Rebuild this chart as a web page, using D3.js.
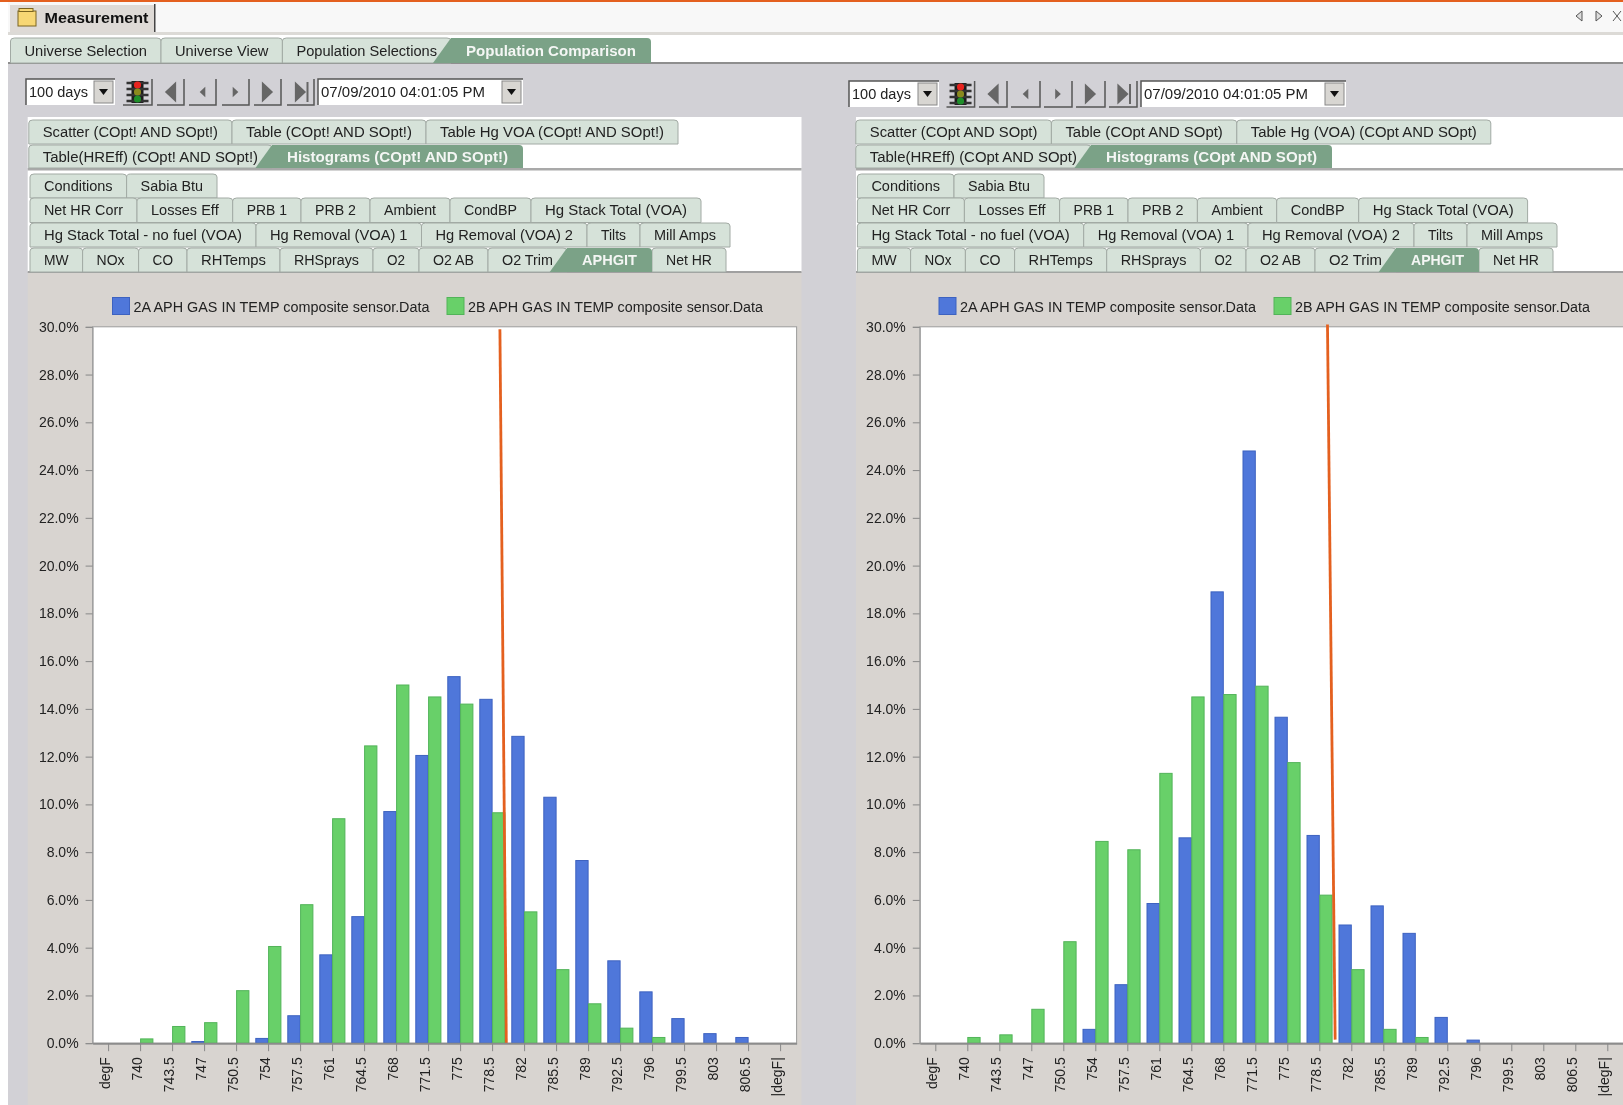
<!DOCTYPE html>
<html>
<head>
<meta charset="utf-8">
<title>Measurement</title>
<script src="https://cdn.jsdelivr.net/npm/d3@7"></script>
<style>
  html, body { margin: 0; padding: 0; background: #fff; overflow: hidden; }
  svg { display: block; filter: blur(0.55px); }
  text { font-family: "Liberation Sans", Arial, sans-serif; fill: #222; }
</style>
</head>
<body>
<div id="chart"></div>
<script>
// histogram bins, same for both panels
var categories = ["degF", "740", "743.5", "747", "750.5", "754", "757.5", "761", "764.5", "768", "771.5",
  "775", "778.5", "782", "785.5", "789", "792.5", "796", "799.5", "803", "806.5", "|degF|"];
var seriesNames = ["2A APH GAS IN TEMP composite sensor.Data", "2B APH GAS IN TEMP composite sensor.Data"];
var yTicks = [0, 2, 4, 6, 8, 10, 12, 14, 16, 18, 20, 22, 24, 26, 28, 30];

var leftBlue = [0, 0, 0, 0.07, 0, 0.2, 1.15, 3.7, 5.3, 9.7, 12.05, 15.35, 14.4, 12.85, 10.3, 7.65, 3.45, 2.15, 1.03, 0.4, 0.24, 0];
var leftGreen = [0, 0.18, 0.7, 0.86, 2.2, 4.05, 5.8, 9.4, 12.45, 15, 14.5, 14.2, 9.65, 5.5, 3.08, 1.65, 0.63, 0.24, 0, 0, 0, 0];
var rightBlue = [0, 0, 0, 0, 0, 0.58, 2.45, 5.85, 8.6, 18.9, 24.8, 13.65, 8.7, 4.95, 5.75, 4.6, 1.08, 0.13, 0, 0, 0, 0];
var rightGreen = [0, 0.24, 0.35, 1.42, 4.25, 8.45, 8.1, 11.3, 14.5, 14.6, 14.95, 11.75, 6.2, 3.08, 0.58, 0.24, 0, 0, 0, 0, 0, 0];

// orange marker: [degF, percent] ends
var leftMarker = [[779.3, 29.9], [780.0, 0]];
var rightMarker = [[779.34, 30.1], [780.18, 0.15]];

var topTabs = ["Universe Selection", "Universe View", "Population Selections", "Population Comparison"];
var dateLabel = "07/09/2010 04:01:05 PM";
var rangeLabel = "100 days";

var leftRow1 = ["Scatter (COpt! AND SOpt!)", "Table (COpt! AND SOpt!)", "Table Hg VOA (COpt! AND SOpt!)"];
var leftRow2 = ["Table(HREff) (COpt! AND SOpt!)", "Histograms (COpt! AND SOpt!)"];
var rightRow1 = ["Scatter (COpt AND SOpt)", "Table (COpt AND SOpt)", "Table Hg (VOA) (COpt AND SOpt)"];
var rightRow2 = ["Table(HREff) (COpt AND SOpt)", "Histograms (COpt AND SOpt)"];
var row3 = ["Conditions", "Sabia Btu"];
var row4 = ["Net HR Corr", "Losses Eff", "PRB 1", "PRB 2", "Ambient", "CondBP", "Hg Stack Total (VOA)"];
var row5 = ["Hg Stack Total - no fuel (VOA)", "Hg Removal (VOA) 1", "Hg Removal (VOA) 2", "Tilts", "Mill Amps"];
var row6 = ["MW", "NOx", "CO", "RHTemps", "RHSprays", "O2", "O2 AB", "O2 Trim", "APHGIT", "Net HR"];

var W = 1623, H = 1105;
var colors = { panel: "#d2d1d6", chartBg: "#d8d4d0", tab: "#d6e2d9", active: "#7ba287", line: "#9a9a9a", blue: "#4f77da", blueEdge: "#3d62c0", green: "#68d069", greenEdge: "#52b359", orange: "#e4601f" };

var svg = d3.select("#chart").append("svg").attr("width", W).attr("height", H);

function rect(g, x, y, w, h, fill, stroke) {
  return g.append("rect").attr("x", x).attr("y", y).attr("width", w).attr("height", h)
    .attr("fill", fill).attr("stroke", stroke || "none");
}

// window chrome
rect(svg, 0, 0, W, H, "#fff");
rect(svg, 0, 0, W, 2, colors.orange);
rect(svg, 8, 2, W - 8, 30, "#f8f8f8");
rect(svg, 8, 32, W - 8, 3, "#dcdad6");
rect(svg, 10, 5, 144, 27, "#dedad6");
rect(svg, 154, 4, 1.5, 28, "#444");
rect(svg, 18, 11, 18, 15, "#f7d774", "#7a6420");
rect(svg, 19, 8.5, 14, 3, "#f7d774", "#7a6420");
svg.append("text").attr("x", 44.5).attr("y", 23).attr("font-size", 14.5).attr("font-weight", "bold")
  .attr("textLength", 104).attr("lengthAdjust", "spacingAndGlyphs").style("fill", "#111").text("Measurement");
[[1579, -1], [1599, 1]].forEach(function(a) {
  svg.append("path").attr("d", "M" + (a[0] + a[1] * 3) + " 16L" + (a[0] - a[1] * 3) + " 11V21Z")
    .attr("fill", "#ddd").attr("stroke", "#555");
});
svg.append("path").attr("d", "M1613 11L1621 21M1621 11L1613 21").attr("stroke", "#555").attr("fill", "none");

rect(svg, 8, 63, W - 8, H - 63, colors.panel);
rect(svg, 8, 62, W - 8, 2, "#8e8e8e");

// one row of tabs. edges are the tab boundaries, activeIdx tab gets a slanted left side
function tabRow(g, names, edges, top, bottom, activeIdx) {
  names.forEach(function(name, i) {
    if (i === activeIdx) return;
    var x0 = edges[i], x1 = edges[i + 1];
    g.append("path")
      .attr("d", "M" + x0 + " " + bottom + "V" + (top + 3) + "Q" + x0 + " " + top + " " + (x0 + 4) + " " + top +
        "H" + (x1 - 4) + "Q" + x1 + " " + top + " " + x1 + " " + (top + 3) + "V" + bottom + "Z")
      .attr("fill", colors.tab).attr("stroke", "#a2aaa4");
    g.append("text").attr("x", (x0 + x1) / 2).attr("y", (top + bottom) / 2 + 5).attr("text-anchor", "middle")
      .attr("font-size", 14).attr("textLength", x1 - x0 - 28).attr("lengthAdjust", "spacingAndGlyphs").text(name);
  });
  if (activeIdx != null) {
    var a0 = edges[activeIdx], a1 = edges[activeIdx + 1], slant = (bottom - top) * 0.72;
    g.append("path")
      .attr("d", "M" + (a0 - slant) + " " + bottom + "L" + a0 + " " + top + "H" + (a1 - 4) + "Q" + a1 + " " + top + " " + a1 + " " + (top + 4) + "V" + bottom + "Z")
      .attr("fill", colors.active);
    g.append("text").attr("x", (a0 + a1) / 2).attr("y", (top + bottom) / 2 + 5).attr("text-anchor", "middle")
      .attr("font-size", 14).attr("font-weight", "bold").attr("textLength", a1 - a0 - 30).attr("lengthAdjust", "spacingAndGlyphs")
      .style("fill", "#f4f6f4").text(names[activeIdx]);
  }
}

function dropdown(g, x0, x1, y0, y1, label, labelWidth) {
  rect(g, x0, y0, x1 - x0, y1 - y0, "#fff");
  g.append("path").attr("d", "M" + x0 + " " + y1 + "V" + y0 + "H" + x1).attr("stroke", "#555").attr("stroke-width", 1.5).attr("fill", "none");
  rect(g, x1 - 21, y0 + 2, 19, y1 - y0 - 4, "#d8d6d2", "#888");
  g.append("path").attr("d", "M" + (x1 - 16) + " " + (y0 + 10) + "h9l-4.5 6z").attr("fill", "#111");
  g.append("text").attr("x", x0 + 3).attr("y", (y0 + y1) / 2 + 5).attr("font-size", 14)
    .attr("textLength", labelWidth).attr("lengthAdjust", "spacingAndGlyphs").text(label);
}

// traffic light + navigation buttons
function controls(g, o) {
  dropdown(g, o.sel[0], o.sel[1], o.y0, o.y1, rangeLabel, 59);
  dropdown(g, o.date[0], o.date[1], o.y0, o.y1, dateLabel, 164);
  var cx = (o.light[0] + o.light[1]) / 2, cy = (o.y0 + o.y1) / 2;
  g.append("path").attr("d", "M" + o.light[0] + " " + o.y1 + "H" + o.light[1] + "V" + o.y0).attr("stroke", "#555").attr("stroke-width", 1.5).attr("fill", "none");
  rect(g, cx - 6, o.y0 + 2, 12, o.y1 - o.y0 - 4, "#1c1c1c");
  g.append("path").attr("d", "M" + (cx - 11) + " " + (cy - 9) + "h22M" + (cx - 11) + " " + (cy - 3) + "h22M" + (cx - 11) + " " + (cy + 3) + "h22M" + (cx - 11) + " " + (cy + 9) + "h22")
    .attr("stroke", "#333").attr("stroke-width", 2.5);
  ["#e8231f", "#8a8a1e", "#1f8f2a"].forEach(function(c, i) {
    g.append("circle").attr("cx", cx).attr("cy", cy + (i - 1) * 7).attr("r", 3.6).attr("fill", c);
  });
  var dirs = [[-1, 8, false], [-1, 4, false], [1, 4, false], [1, 8, false], [1, 8, true]];
  o.nav.forEach(function(n, i) {
    var c = (n[0] + n[1]) / 2, d = dirs[i];
    g.append("path").attr("d", "M" + n[0] + " " + o.y1 + "H" + n[1] + "V" + o.y0).attr("stroke", "#555").attr("stroke-width", 1.5).attr("fill", "none");
    g.append("path").attr("d", "M" + (c + d[0] * d[1] * 0.7) + " " + cy + "L" + (c - d[0] * d[1] * 0.7) + " " + (cy - d[1] * 1.3) + "V" + (cy + d[1] * 1.3) + "Z").attr("fill", "#666");
    if (d[2]) rect(g, c + 6, cy - 10, 2, 20, "#666");
  });
}

function histogram(o) {
  var g = svg.append("g");
  // tabs panel and chart background
  rect(g, o.panel[0], 117, o.panel[1] - o.panel[0], 155, "#fff");
  rect(g, o.panel[0], 168, o.panel[1] - o.panel[0], 2.5, "#a9a9a9");
  rect(g, o.panel[0], 272, o.panel[1] - o.panel[0], H - 272, colors.chartBg);
  rect(g, o.panel[0], 271, o.panel[1] - o.panel[0], 2, "#a0a0a0");

  controls(g, o);
  tabRow(g, o.row1, o.edges1, 120, 144, null);
  tabRow(g, o.row2, o.edges2, 145, 168, 1);
  tabRow(g, row3, o.edges3, 174, 198, null);
  tabRow(g, row4, o.edges4, 198, 222.5, null);
  tabRow(g, row5, o.edges5, 223, 247, null);
  tabRow(g, row6, o.edges6, 248, 272, 8);

  // legend
  seriesNames.forEach(function(name, i) {
    rect(g, o.legend[i], 297.5, 17, 17, i ? colors.green : colors.blue, i ? colors.greenEdge : colors.blueEdge);
    g.append("text").attr("x", o.legend[i] + 21).attr("y", 312).attr("font-size", 14)
      .attr("textLength", i ? 295 : 296).attr("lengthAdjust", "spacingAndGlyphs").text(name);
  });

  var x = d3.scaleBand().domain(categories).range([o.plotX, o.plotX + 704]).paddingInner(0.2).paddingOuter(0.1);
  var inner = d3.scaleBand().domain([0, 1]).range([0, x.bandwidth()]);
  var y = d3.scaleLinear().domain([0, 30]).range([1043.2, 326.8]);
  var binPos = d3.scaleLinear().domain([740, 806.5]).range([x("740") + x.bandwidth() / 2, x("806.5") + x.bandwidth() / 2]);

  rect(g, o.plotX, y(30), 704, y(0) - y(30), "#fff", "#9c9c9c");

  [o.blue, o.green].forEach(function(vals, s) {
    g.append("g").selectAll("rect")
      .data(vals.map(function(v, i) { return { v: v, c: categories[i] }; }).filter(function(d) { return d.v > 0; }))
      .enter().append("rect")
      .attr("x", function(d) { return x(d.c) + inner(s); })
      .attr("y", function(d) { return y(d.v); })
      .attr("width", inner.bandwidth() - 0.5)
      .attr("height", function(d) { return y(0) - y(d.v); })
      .attr("fill", s ? colors.green : colors.blue)
      .attr("stroke", s ? colors.greenEdge : colors.blueEdge);
  });

  g.append("path")
    .attr("d", d3.line().x(function(d) { return binPos(d[0]); }).y(function(d) { return y(d[1]); })(o.marker))
    .attr("stroke", colors.orange).attr("stroke-width", 2.8).attr("fill", "none");

  var yAxis = g.append("g").attr("transform", "translate(" + o.plotX + ",0)")
    .call(d3.axisLeft(y).tickValues(yTicks).tickSize(7).tickPadding(7).tickFormat(function(d) { return d.toFixed(1) + "%"; }));
  yAxis.select(".domain").attr("stroke", "#9c9c9c");
  yAxis.selectAll("line").attr("stroke", "#888");
  yAxis.selectAll("text").attr("font-size", 14).attr("font-family", null).style("fill", "#222");

  var xAxis = g.append("g").attr("transform", "translate(0," + y(0) + ")")
    .call(d3.axisBottom(x).tickSize(8).tickSizeOuter(0));
  xAxis.select(".domain").attr("stroke", "#8c8c8c").attr("stroke-width", 2);
  xAxis.selectAll("line").attr("stroke", "#888");
  xAxis.selectAll("text").attr("font-size", 14).attr("font-family", null).style("fill", "#222")
    .attr("text-anchor", "end").attr("transform", "rotate(-90)").attr("x", -14).attr("y", -3.5).attr("dy", "0.32em");
}

// top level tabs
tabRow(svg, topTabs, [10.5, 161, 282.4, 451, 651], 38, 63, 3);
rect(svg, 651, 36, W - 651, 26, "#fff");

histogram({
  plotX: 92.6, panel: [27.7, 801.5], y0: 79, y1: 105,
  sel: [26, 115], light: [123, 152], date: [318, 523],
  nav: [[157, 184], [189, 216], [222, 249], [254, 281], [287, 314]],
  row1: leftRow1, row2: leftRow2,
  blue: leftBlue, green: leftGreen, marker: leftMarker,
  legend: [112.5, 447],
  edges1: [28.8, 232, 426, 678],
  edges2: [28.8, 272, 523],
  edges3: [30, 126.6, 217],
  edges4: [30, 137, 232.7, 301, 370, 450, 531, 701],
  edges5: [30, 256, 421.5, 587, 640, 730],
  edges6: [30, 82.6, 138.6, 187, 280, 373, 419, 488, 567, 652, 726]
});

histogram({
  plotX: 919.8, panel: [856, W], y0: 81, y1: 107,
  sel: [849, 939], light: [946.5, 974.6], date: [1141, 1346],
  nav: [[979, 1007], [1011, 1040], [1044, 1072], [1076, 1105], [1109, 1137]],
  row1: rightRow1, row2: rightRow2,
  blue: rightBlue, green: rightGreen, marker: rightMarker,
  legend: [939, 1274],
  edges1: [855.8, 1051.4, 1236.8, 1490.8],
  edges2: [855.8, 1091, 1332],
  edges3: [857.4, 954, 1044],
  edges4: [857.4, 964.4, 1059.6, 1128, 1197.4, 1276.7, 1358.7, 1527.6],
  edges5: [857.4, 1083.7, 1248, 1414, 1467, 1557],
  edges6: [857.4, 910.6, 965.4, 1014.6, 1106.7, 1200.4, 1246, 1315, 1396, 1479, 1553]
});
</script>
</body>
</html>
